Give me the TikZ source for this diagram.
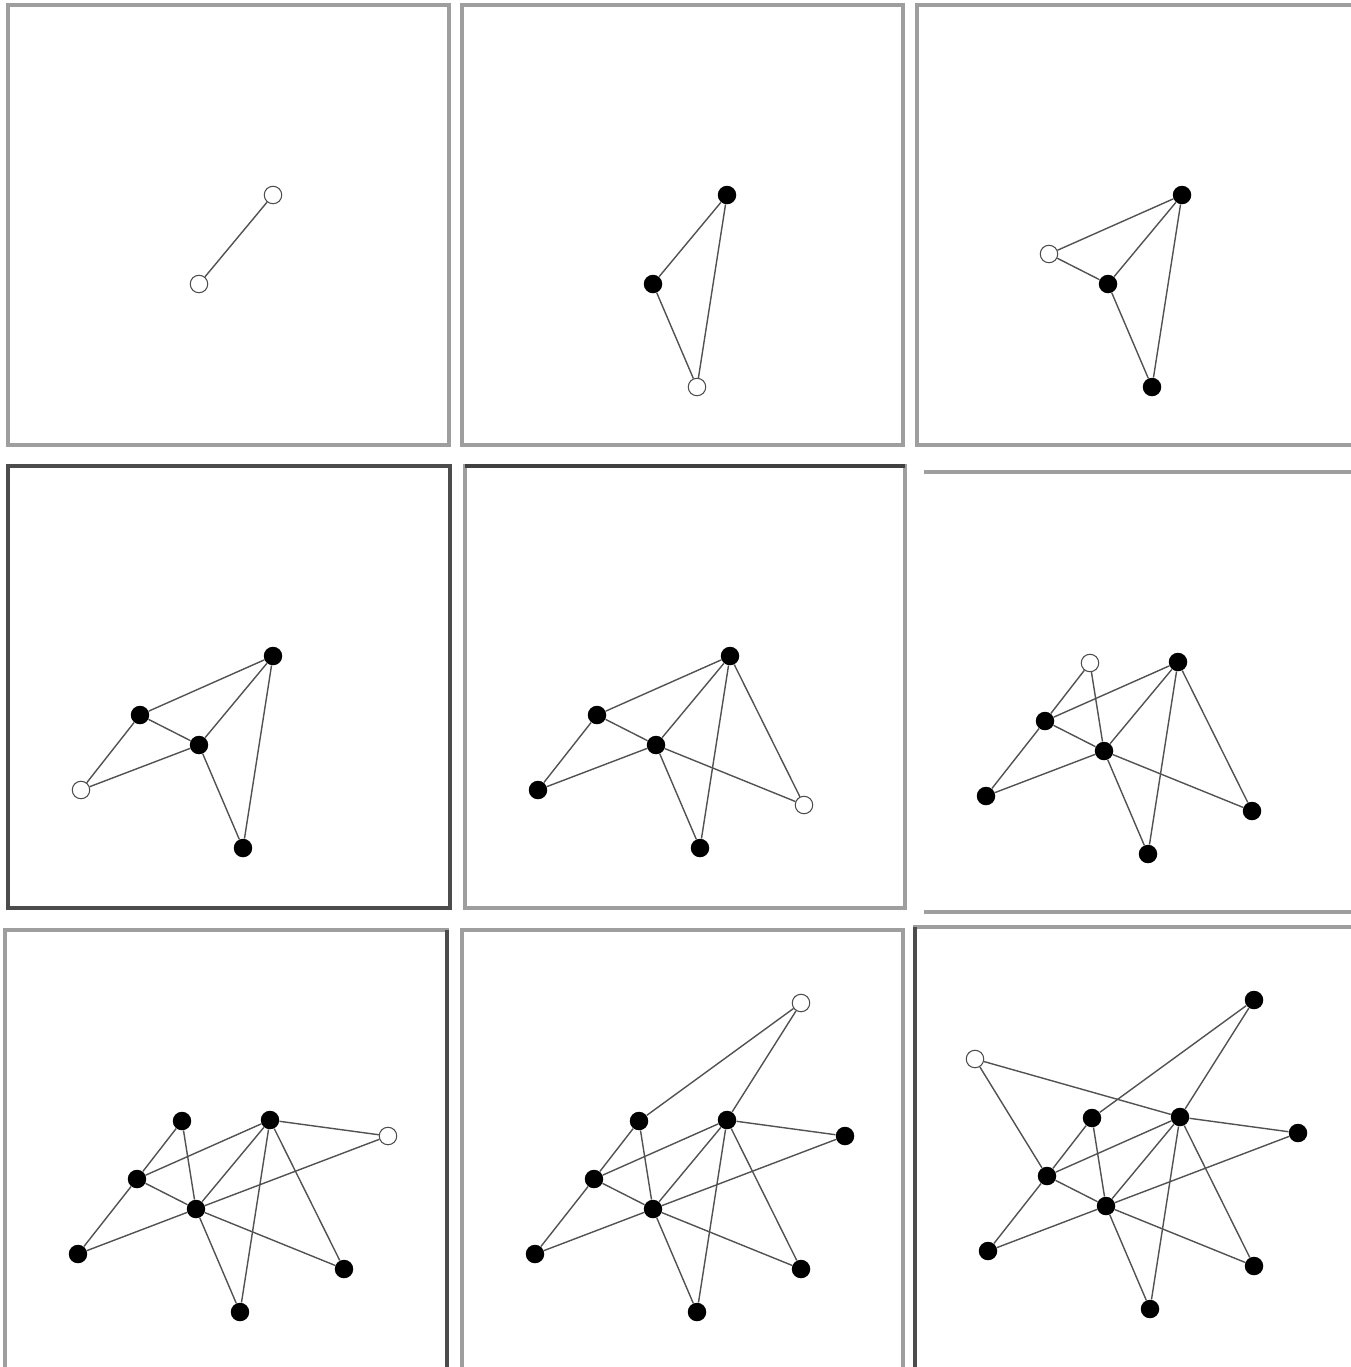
\documentclass[tikz,border=0pt]{standalone}
\usepackage{tikz}

% vertex positions inside a panel, in order of arrival
\newcommand{\vtxlayout}{a/265/190, b/191/279, c/235/382, d/132/249, e/73/324,
    f/339/339, g/177/191, h/383/206, i/339/73, j/60/132}
% each new vertex brings two links (the first one only one)
\newcommand{\linklist}{b/a, c/a, c/b, d/a, d/b, e/d, e/b, f/a, f/b, g/d, g/b,
    h/a, h/b, i/g, i/a, j/a, j/d}

\begin{document}
\begin{tikzpicture}[x=0.02cm, y=-0.02cm,
    vtx/.style={circle, fill=black, inner sep=0pt, minimum size=0.37cm},
    newvtx/.style={circle, draw=black!70, fill=white, line width=0.6pt,
        inner sep=0pt, minimum size=0.35cm},
    link/.style={draw=black!68, line width=0.8pt},
    frame/.style={draw=black!38, line width=1.8pt}
]
    \useasboundingbox (0,0) rectangle (1351,1367);
    \clip (0,0) rectangle (1351,1367);

    % panel frames
    \draw[frame] (8,5) rectangle (449,445);
    \draw[frame] (462,5) rectangle (903,445);
    \draw[frame] (917,5) rectangle (1362,445);
    \draw[frame, draw=black!70] (8,466) rectangle (450,908);
    \draw[frame] (465,466) rectangle (905,908);
    \draw[frame, draw=black!75] (465,466) -- (905,466);
    \draw[frame] (924,472) -- (1362,472) (924,912) -- (1362,912);
    \draw[frame] (5,930) rectangle (447,1380);
    \draw[frame, draw=black!70] (447,930) -- (447,1380);
    \draw[frame] (462,930) rectangle (903,1380);
    \draw[frame] (915,927) rectangle (1362,1380);
    \draw[frame, draw=black!70] (915,927) -- (915,1380);

    % the graph, one vertex more in every panel
    \foreach \k/\ox/\oy in {1/8/5, 2/462/5, 3/917/5, 4/8/466, 5/465/466,
        6/913/472, 7/5/930, 8/462/930, 9/915/927} {
        \begin{scope}[shift={(\ox,\oy)}, name prefix=p\k-]
            \foreach \v/\px/\py [count=\vi] in \vtxlayout {
                \ifnum\vi>\numexpr\k+1\relax\else
                    \ifnum\vi=\numexpr\k+1\relax
                        \node[newvtx] (\v) at (\px,\py) {};
                    \else\ifnum\k=1
                        \node[newvtx] (\v) at (\px,\py) {};
                    \else
                        \node[vtx] (\v) at (\px,\py) {};
                    \fi\fi
                \fi
            }
            \foreach \s/\t [count=\li] in \linklist {
                \ifnum\li<\numexpr2*\k\relax
                    \draw[link] (\s) -- (\t);
                \fi
            }
        \end{scope}
    }
\end{tikzpicture}
\end{document}
